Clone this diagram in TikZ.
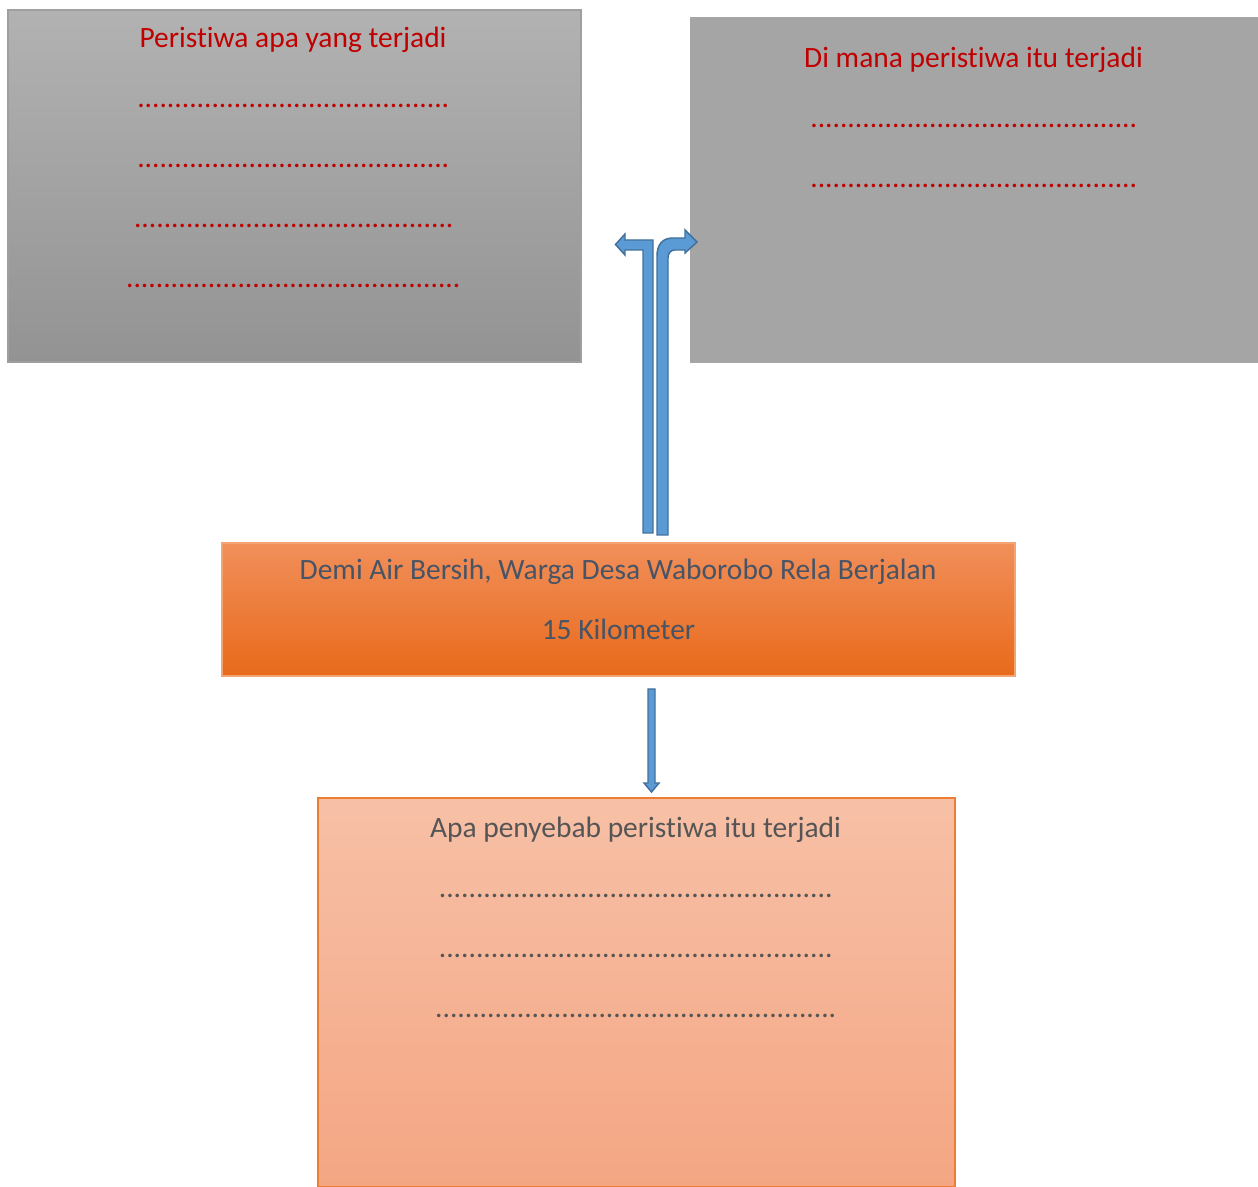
\documentclass[tikz,border=0pt]{standalone}
\usepackage{fontspec}
\setmainfont{Carlito}[RawFeature={-liga;-dlig;-clig;-calt}]
\definecolor{redtxt}{HTML}{C00000}
\definecolor{graytxt}{HTML}{475466}
\definecolor{saltxt}{HTML}{555555}
\definecolor{arrowfill}{HTML}{5B9BD5}
\definecolor{arrowline}{HTML}{41719C}
\tikzset{
  lbl/.style={anchor=base, inner sep=0pt, font=\fontsize{22.1}{26}\selectfont},
  arrowshape/.style={fill=arrowfill, draw=arrowline, line width=1.1pt, line join=miter},
  box/.style={inner sep=0pt, line width=0.8pt}
}
\newcommand{\dotsn}[1]{\foreach \i in {1,...,#1}{.}}
\begin{document}
\begin{tikzpicture}[x=0.75pt,y=-0.75pt]
\clip (0,0) rectangle (1258,1187);
\fill[white] (0,0) rectangle (1258,1187);
% boxes
\node[box, draw=gray!75, top color={rgb,255:red,178;green,178;blue,178}, bottom color={rgb,255:red,147;green,147;blue,147},
  minimum width=429.75pt, minimum height=264pt] (left) at (294.5,186) {};
\node[box, fill={rgb,255:red,165;green,165;blue,165},
  minimum width=426pt, minimum height=259.5pt] (right) at (974,190) {};
\node[box, draw={rgb,255:red,244;green,164;blue,114}, top color={rgb,255:red,241;green,143;blue,90}, middle color={rgb,255:red,244;green,126;blue,47}, bottom color={rgb,255:red,232;green,106;blue,27},
  minimum width=594.75pt, minimum height=99.75pt] (mid) at (618.5,609.5) {};
\node[box, draw={rgb,255:red,237;green,125;blue,49}, top color={rgb,255:red,247;green,192;blue,166}, bottom color={rgb,255:red,244;green,166;blue,131},
  minimum width=477.75pt, minimum height=291.75pt] (bot) at (636.5,992.5) {};
% left box text
\node[lbl, text=redtxt] (lt) at (293,48) {Peristiwa apa yang terjadi};
\node[lbl, text=redtxt] (ld1) at (293.5,108) {\dotsn{42}};
\node[lbl, text=redtxt] (ld2) at (293.5,168) {\dotsn{42}};
\node[lbl, text=redtxt] (ld3) at (294,228) {\dotsn{43}};
\node[lbl, text=redtxt] (ld4) at (293.5,288) {\dotsn{45}};
% right box text
\node[lbl, text=redtxt] (rt) at (973.5,68) {Di mana peristiwa itu terjadi};
\node[lbl, text=redtxt] (rd1) at (974,128) {\dotsn{44}};
\node[lbl, text=redtxt] (rd2) at (974,188) {\dotsn{44}};
% middle box text
\node[lbl, text=graytxt] (mt1) at (618,580) {Demi Air Bersih, Warga Desa Waborobo Rela Berjalan};
\node[lbl, text=graytxt] (mt2) at (618.5,640) {15 Kilometer};
% bottom box text
\node[lbl, text=saltxt] (bt) at (635.5,837) {Apa penyebab peristiwa itu terjadi};
\node[lbl, text=saltxt] (bd1) at (636,897) {\dotsn{53}};
\node[lbl, text=saltxt] (bd2) at (636,957) {\dotsn{53}};
\node[lbl, text=saltxt] (bd3) at (636,1017) {\dotsn{54}};
% left bent arrow
\draw[arrowshape] (643,533) -- (643,250) -- (625,250) -- (625,255) -- (615.5,244.5) -- (625,234) -- (625,240) -- (653,240) -- (653,533) -- cycle;
% right curved arrow
\draw[arrowshape] (657,535) -- (657,256) .. controls (657,245) and (662,238) .. (673,238) -- (685,238) -- (685,230) -- (697,242) -- (685,253) -- (685,250) -- (675,250) .. controls (671,250) and (668,253) .. (668,258) -- (668,535) -- cycle;
% down arrow
\draw[arrowshape] (648,689) -- (655,689) -- (655,783) -- (659,783) -- (651.5,792) -- (644,783) -- (648,783) -- cycle;
\end{tikzpicture}
\end{document}
